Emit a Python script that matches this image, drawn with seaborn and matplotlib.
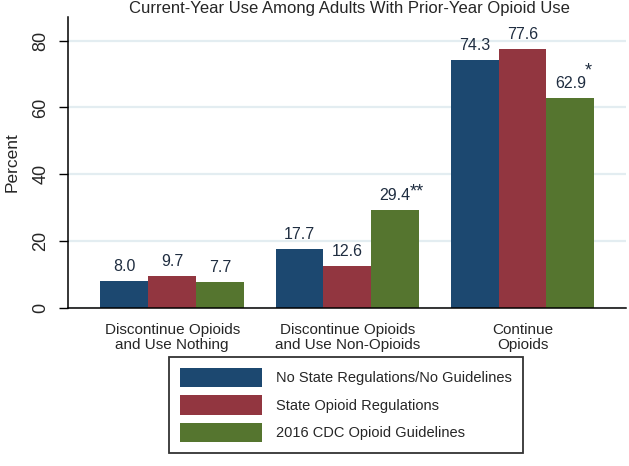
import pandas as pd
import seaborn as sns
import matplotlib.pyplot as plt

categories = ["Discontinue Opioids\nand Use Nothing",
              "Discontinue Opioids\nand Use Non-Opioids",
              "Continue\nOpioids"]
groups = ["No State Regulations/No Guidelines",
          "State Opioid Regulations",
          "2016 CDC Opioid Guidelines"]
no_regs = [8.0, 17.7, 74.3]
state_regs = [9.7, 12.6, 77.6]
cdc_2016 = [7.7, 29.4, 62.9]
# significance marks on the CDC series
cdc_marks = ["", "**", "*"]

colors = ["#1C4870", "#923640", "#55752F"]

rows = []
for g, vals in zip(groups, [no_regs, state_regs, cdc_2016]):
    for c, v in zip(categories, vals):
        rows.append({"category": c, "group": g, "value": v})
df = pd.DataFrame(rows)

sns.set_theme(style="white")
plt.rcParams["font.family"] = ["Liberation Sans", "DejaVu Sans"]

fig = plt.figure(figsize=(6.29, 4.66), dpi=100)
ax = fig.add_axes([0.108, 0.339, 0.887, 0.625])

sns.barplot(data=df, x="category", y="value", hue="group", palette=colors,
            width=0.82, saturation=1, linewidth=0, ax=ax)

ax.set_ylim(0, 87.1)
ax.set_xlim(-0.595, 2.59)
ax.set_yticks([0, 20, 40, 60, 80])
ax.yaxis.grid(True, color="#E3EDF1", linewidth=1.6)
ax.set_axisbelow(True)
for t in ax.get_yticklabels():
    t.set_rotation(90)
    t.set_va("center")
ax.tick_params(axis="y", left=True, length=6.5, width=1, color="black",
               labelsize=13, pad=7, direction="out")
ax.tick_params(axis="x", bottom=False, labelsize=11, pad=5)
for t in ax.get_xticklabels():
    t.set_linespacing(1.08)
ax.set_xlabel("")
ax.set_ylabel("Percent", fontsize=12.5, labelpad=9)
sns.despine(ax=ax)
ax.spines["left"].set_color("black")
ax.spines["bottom"].set_color("black")
ax.spines["left"].set_linewidth(1.1)
ax.spines["bottom"].set_linewidth(1.1)

label_color = "#1F2D40"
for cont in ax.containers:
    ax.bar_label(cont, fmt="%.1f", padding=5, color=label_color, fontsize=11.5)

# stars next to the CDC labels
cdc_bars = ax.containers[2]
star_dy = {"**": 7, "*": 13}
for bar, mark in zip(cdc_bars, cdc_marks):
    if not mark:
        continue
    ax.annotate(mark, (bar.get_x() + bar.get_width() / 2, bar.get_height()),
                xytext=(10.5, star_dy[mark]), textcoords="offset points",
                ha="left", va="bottom", fontsize=13, color=label_color)

handles, labels = ax.get_legend_handles_labels()
leg = ax.legend(handles, labels, loc="upper center",
                bbox_to_anchor=(346 / 629, 1 - 357 / 466),
                bbox_transform=fig.transFigure, fontsize=10.5,
                frameon=True, fancybox=False, edgecolor="black",
                handlelength=5.6, handleheight=1.65, labelspacing=0.58,
                handletextpad=1.0, borderpad=0.73, borderaxespad=0)
leg.get_frame().set_linewidth(1.3)

fig.text(349 / 629, 1 - 9 / 466, "Current-Year Use Among Adults With Prior-Year Opioid Use",
         ha="center", va="center", fontsize=12)

fig.savefig("out.png", dpi=100)
